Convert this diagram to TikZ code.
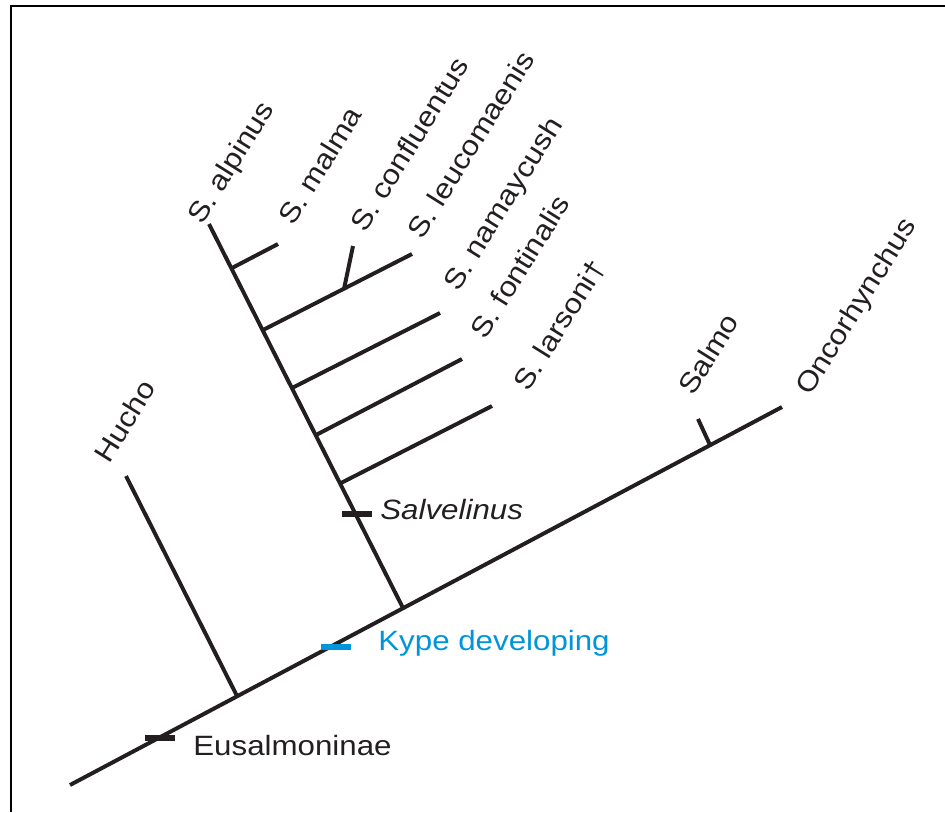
\documentclass[tikz,border=0pt]{standalone}
\usepackage{fontspec}
\setmainfont[FakeStretch=1.12]{Liberation Sans}
\usepackage{tikz}
\definecolor{TreeInk}{HTML}{231F20}
\definecolor{KypeBlue}{HTML}{0095DA}

\begin{document}
\begin{tikzpicture}[x=0.02cm,y=-0.02cm,
  branch/.style={draw=TreeInk,line width=2.25pt},
  tickbar/.style={fill=TreeInk,minimum width=0.6cm,minimum height=0.12cm,inner sep=0pt},
  taxon/.style={anchor=base west,rotate=58,inner sep=0pt,text=TreeInk,font=\fontsize{15.9}{18}\selectfont},
  clade/.style={anchor=base west,inner sep=0pt,text=TreeInk,font=\fontsize{15.9}{18}\selectfont}
]
\useasboundingbox (0,0) rectangle (945,812);
\draw[line width=1.15pt] (11,812) -- (11,6) -- (945,6);

\coordinate (root) at (70,785);
\coordinate (onc) at (782,407);
\coordinate (huchoj) at (237,696);
\coordinate (hucho) at (126,476);
\coordinate (salvj) at (403,608);
\coordinate (alpinus) at (209,224);
\coordinate (salmoj) at (710,445);
\coordinate (salmo) at (698,419);
\coordinate (malmaj) at (232,268);
\coordinate (malma) at (278,244);
\coordinate (leucj) at (263,330);
\coordinate (leuc) at (412,254);
\coordinate (conflj) at (344,289);
\coordinate (confl) at (353,246);
\coordinate (namaj) at (292,388);
\coordinate (nama) at (440,313);
\coordinate (fontj) at (316,435);
\coordinate (font) at (462,359);
\coordinate (larsj) at (341,483);
\coordinate (lars) at (492,406);

\draw[branch] (root) -- (onc);
\foreach \from/\to in {huchoj/hucho,salvj/alpinus,salmoj/salmo,malmaj/malma,leucj/leuc,
  conflj/confl,namaj/nama,fontj/font,larsj/lars}
  \draw[branch] (\from) -- (\to);

\node[tickbar] (eusbar) at (160,738) {};
\node[tickbar,fill=KypeBlue] (kypebar) at (336,647) {};
\node[tickbar] (salvbar) at (357,514) {};
\node[clade] (eus) at (193,755) {Eusalmoninae};
\node[clade,text=KypeBlue] (kype) at (378,650) {Kype developing};
\node[clade,font=\fontsize{15.9}{18}\selectfont\itshape] (salv) at (380,519) {Salvelinus};

\node[taxon] (huchol) at (109,465) {Hucho};
\node[taxon] (alpinusl) at (202,226) {S. alpinus};
\node[taxon] (malmal) at (293,227) {S. malma};
\node[taxon] (confll) at (365,234) {S. confluentus};
\node[taxon] (leucl) at (422,241) {S. leucomaenis};
\node[taxon] (namal) at (458,293) {S. namaycush};
\node[taxon] (fontl) at (485,341) {S. fontinalis};
\node[taxon] (larsl) at (528,393) {S. larsoni†};
\node[taxon] (salmol) at (693,397) {Salmo};
\node[taxon] (oncl) at (810,397) {Oncorhynchus};
\end{tikzpicture}
\end{document}
